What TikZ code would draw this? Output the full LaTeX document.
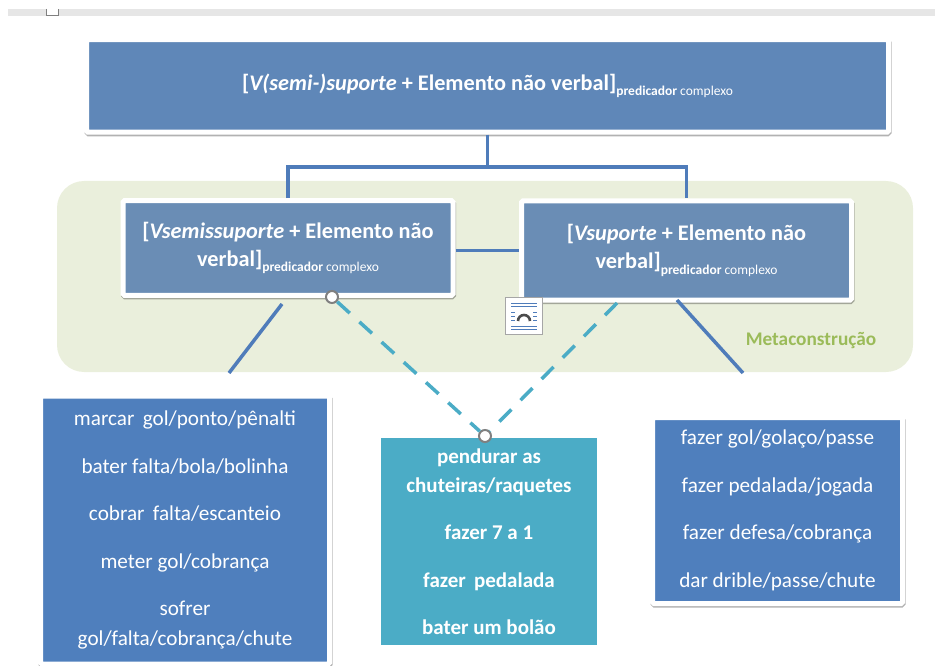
\documentclass[tikz,border=0pt]{standalone}
\usepackage{fontspec}
\setmainfont{Carlito}
\usetikzlibrary{shadows}
\newcommand{\predcomplexo}{\raisebox{-0.5ex}{\fontsize{13.5}{13.5}\selectfont\textbf{predicador} \mdseries complexo}}

\begin{document}
\begin{tikzpicture}[x=1pt,y=-1pt,
        framebox/.style={draw=white, line width=5pt, rounded corners=1.5pt, align=center, text=white, font=\fontsize{22.3}{28}\selectfont\bfseries, drop shadow={shadow xshift=0.5pt, shadow yshift=-1.6pt, opacity=.3, fill=black, draw=black}},
        listbox/.style={framebox, font=\fontsize{21.2}{30}\selectfont\mdseries, fill=listblue},
        link/.style={draw=linkblue, line width=3.5pt},
        dashlink/.style={draw=dashteal, line width=3.5pt, dash pattern=on 17pt off 13pt},
        handle/.style={circle, draw=gray, fill=white, line width=2pt, minimum size=12pt, inner sep=0pt}]
    \definecolor{topblue}{HTML}{5F87B8}
    \definecolor{midblue}{HTML}{6A8DB5}
    \definecolor{listblue}{HTML}{4F7FBD}
    \definecolor{linkblue}{HTML}{4F7CBA}
    \definecolor{dashteal}{HTML}{4BACC6}
    \definecolor{metagreen}{HTML}{EAEFDC}
    \definecolor{metatext}{HTML}{9BBB59}
    \definecolor{barfill}{HTML}{E6E6E6}
    \useasboundingbox (0,0) rectangle (935,666);

    \fill[barfill] (8,9) rectangle (935,16);
    \draw[gray, fill=white, line width=.8pt] (46,9) -- (46,15.5) -- (58,15.5) -- (58,9);

    \node[fill=metagreen, rounded corners=27pt, minimum width=856pt, minimum height=191pt, inner sep=0pt] (meta) at (485,276.5) {};
    \node[text=metatext, font=\fontsize{19.3}{20}\selectfont\bfseries, inner sep=0pt] (metalabel) at (811,341) {Metaconstrução};

    \node[framebox, fill=topblue, minimum width=802pt, minimum height=92.5pt, inner sep=0pt] (top) at (487.5,86) {[\textit{V(semi-)suporte} + Elemento não verbal]\predcomplexo};
    \node[framebox, fill=midblue, minimum width=330pt, minimum height=94.5pt, inner sep=0pt] (semi) at (288,248) {[\textit{Vsemissuporte} + Elemento não\\verbal]\predcomplexo};
    \node[framebox, fill=midblue, minimum width=330pt, minimum height=99pt, inner sep=0pt] (suporte) at (686.5,250.5) {[\textit{Vsuporte} + Elemento não\\verbal]\predcomplexo};

    \node[listbox, minimum width=289pt, minimum height=268pt, inner sep=0pt] (listsemi) at (185,530) {marcar\, gol/ponto/pênalti\\[17.5pt]bater falta/bola/bolinha\\[17.5pt]cobrar\, falta/escanteio\\[17.5pt]meter gol/cobrança\\[17.5pt]sofrer\\gol/falta/cobrança/chute};
    \node[fill=dashteal, text=white, align=center, font=\fontsize{21}{29}\selectfont\bfseries, minimum width=216pt, minimum height=207pt, inner sep=0pt] (listmeio) at (489,541.5) {pendurar as\\chuteiras/raquetes\\[18.5pt]fazer 7 a 1\\[18.5pt]fazer\, pedalada\\[18.5pt]bater um bolão};
    \node[listbox, minimum width=250pt, minimum height=186pt, inner sep=0pt] (listsuporte) at (777.5,510.5) {fazer gol/golaço/passe\\[17.5pt]fazer pedalada/jogada\\[17.5pt]fazer defesa/cobrança\\[17.5pt]dar drible/passe/chute};

    \coordinate (junction) at (487.5,167);
    \coordinate (semiout) at (282,304);
    \coordinate (semiend) at (229,373);
    \coordinate (suporteout) at (677,300);
    \coordinate (suporteend) at (743,373);
    \coordinate (dashout) at (617,303);

    \draw[link] (top.south) -- (junction);
    \draw[link] (semi.north) |- (junction) -| (suporte.north);
    \draw[link] (suporte.west -| semi.east) -- (suporte.west);
    \draw[link] (semiout) -- (semiend);
    \draw[link] (suporteout) -- (suporteend);

    \node[handle] (handlesemi) at (332,297) {};
    \node[handle] (handlemeio) at (485,436) {};
    \draw[dashlink] (handlesemi) -- (handlemeio);
    \draw[dashlink] (dashout) -- (handlemeio);

    \node[draw=gray!70, fill=white, line width=.8pt, minimum size=37pt, inner sep=0pt] (anchoricon) at (524,316) {};
    \foreach \ypos in {-13,-10,10,13}
        \draw[linkblue, line width=.9pt] ([xshift=-13pt,yshift=\ypos pt]anchoricon.center) -- ++(26,0);
    \foreach \ypos in {-4,0,4}{
        \draw[linkblue, line width=.9pt] ([xshift=-13pt,yshift=\ypos pt]anchoricon.center) -- ++(4,0);
        \draw[linkblue, line width=.9pt] ([xshift=9pt,yshift=\ypos pt]anchoricon.center) -- ++(4,0);
    }
    \draw[gray!60!black, line width=2.6pt] ([xshift=-6pt,yshift=-5pt]anchoricon.center) arc[start angle=180, end angle=0, radius=6pt];
\end{tikzpicture}
\end{document}
